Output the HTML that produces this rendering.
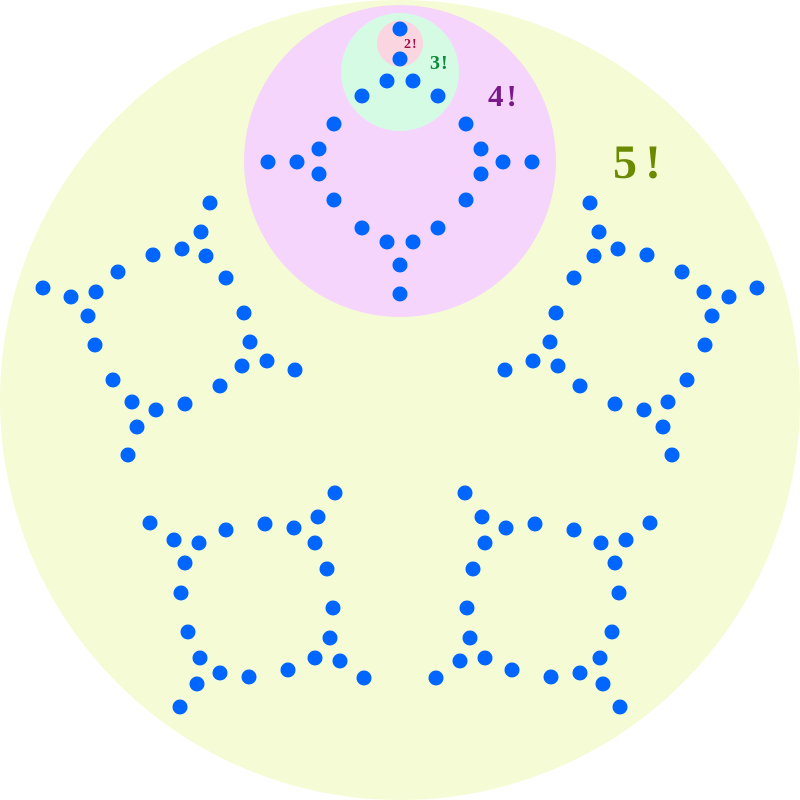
<!DOCTYPE html>
<html><head><meta charset="utf-8"><style>html,body{margin:0;padding:0;background:#fff}svg{display:block}</style></head>
<body>
<svg id="s" width="800" height="800" viewBox="0 0 800 800" xmlns="http://www.w3.org/2000/svg">
<circle cx="400" cy="400" r="400" fill="#f5fcd5"/>
<circle cx="400" cy="161" r="156" fill="#f5d5fb"/>
<circle cx="400" cy="72" r="59" fill="#d5fbe5"/>
<circle cx="400" cy="43.5" r="23" fill="#fbd5e0"/>
<g font-family="Liberation Serif, serif" font-weight="bold">
<text x="404" y="48" font-size="14" fill="#a0104a" letter-spacing="1">2!</text>
<text x="430" y="69" font-size="20" fill="#0a8a3a" letter-spacing="1">3!</text>
<text x="488" y="106" font-size="31" fill="#7a1a8a" letter-spacing="3">4!</text>
<text x="613" y="178" font-size="48" fill="#6b8a00" letter-spacing="8">5!</text>
</g>
<g id="d" fill="#0066ff"></g>
</svg>
<script>
(function(){
var T=[[400,29],[400,59],[387,81],[413,81],[362,96],[438,96],[334,124],[466,124],[319,149],[481,149],[268,162],[297,162],[503,162],[532,162],[319,174],[481,174],[334,200],[466,200],[362,228],[438,228],[387,242],[413,242],[400,265],[400,294]];
var A=[[210,203],[201,232],[182,249],[206,256],[153,255],[226,278],[118,272],[43,288],[71,297],[96,292],[88,316],[95,345],[244,313],[250,342],[267,361],[295,370],[242,366],[220,386],[113,380],[132,402],[156,410],[185,404],[137,427],[128,455]];
var B=[[335,493],[318,517],[294,528],[315,543],[265,524],[327,569],[226,530],[150,523],[174,540],[199,543],[185,563],[181,593],[188,632],[200,658],[197,684],[180,707],[220,673],[249,677],[288,670],[315,658],[330,638],[333,608],[340,661],[364,678]];
var P=T.slice();
A.concat(B).forEach(function(p){P.push(p);P.push([800-p[0],p[1]]);});
var g=document.getElementById('d'),ns='http://www.w3.org/2000/svg';
P.forEach(function(p){var c=document.createElementNS(ns,'circle');c.setAttribute('cx',p[0]);c.setAttribute('cy',p[1]);c.setAttribute('r','7.5');g.appendChild(c);});
})();
</script>
</body></html>
